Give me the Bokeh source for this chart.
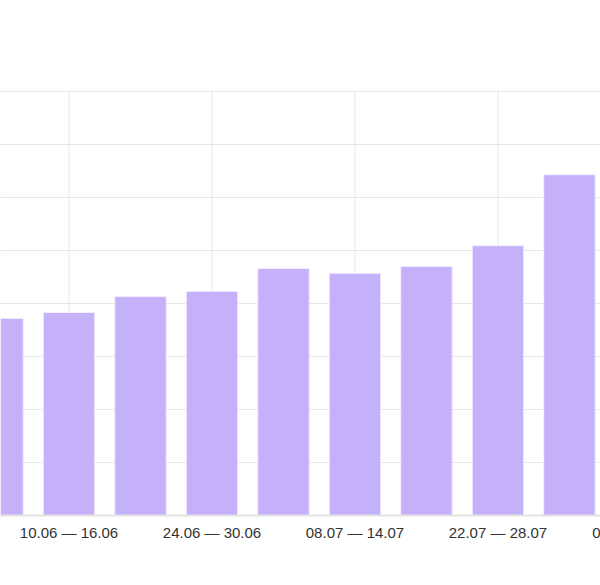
from bokeh.plotting import figure
from bokeh.models import Range1d, FixedTicker, Span, ColumnDataSource
from bokeh.core.properties import value
from bokeh.embed import file_html
from bokeh.resources import INLINE

weeks = ["03.06 — 09.06", "10.06 — 16.06", "17.06 — 23.06", "24.06 — 30.06",
         "01.07 — 07.07", "08.07 — 14.07", "15.07 — 21.07", "22.07 — 28.07",
         "29.07 — 04.08", "05.08 — 11.08"]
values = [372, 383, 413, 423, 466, 457, 470, 509, 643]
y_ticks = [0, 100, 200, 300, 400, 500, 600, 700, 800]

idx = list(range(len(values)))
src = ColumnDataSource(dict(x=idx, top=values))

label_ticks = [i for i in range(len(weeks)) if i % 2 == 1]
lab_src = ColumnDataSource(dict(x=label_ticks, text=[weeks[i] for i in label_ticks]))

# the frame fills the whole canvas; the category labels sit inside it below zero
x0, x1 = 0.042, 8.434
p = figure(width=600, height=585, output_backend="svg", toolbar_location=None,
           x_range=Range1d(x0, x1), y_range=Range1d(-132.1, 971.7),
           min_border_left=0, min_border_right=0, min_border_top=0, min_border_bottom=0)
p.outline_line_color = None
p.background_fill_color = "white"
p.border_fill_color = "white"
p.xaxis.visible = False
p.yaxis.visible = False
p.xgrid.grid_line_color = None
p.ygrid.ticker = FixedTicker(ticks=y_ticks[1:])
p.ygrid.grid_line_color = "#e6e6e6"
p.ygrid.grid_line_width = 1

# vertical grid lines at the labelled weeks, from zero to the top tick
p.segment(x0=label_ticks, x1=label_ticks, y0=[y_ticks[0]] * len(label_ticks),
          y1=[y_ticks[-1]] * len(label_ticks), line_color="#e6e6e6", line_width=1)

p.vbar(x="x", top="top", bottom=0, width=0.72, source=src,
       fill_color="#c4b1fa", line_color="#f2eeff", line_width=1)

p.add_layout(Span(location=0, dimension="width", line_color="#e3e3e3", line_width=2))

p.text(x="x", y=-33, text="text", source=lab_src, text_align="center",
       text_baseline="middle", text_font=value("Liberation Sans"),
       text_font_size="15px", text_color="#333333")

open("out.html", "w").write(file_html(p, INLINE))
